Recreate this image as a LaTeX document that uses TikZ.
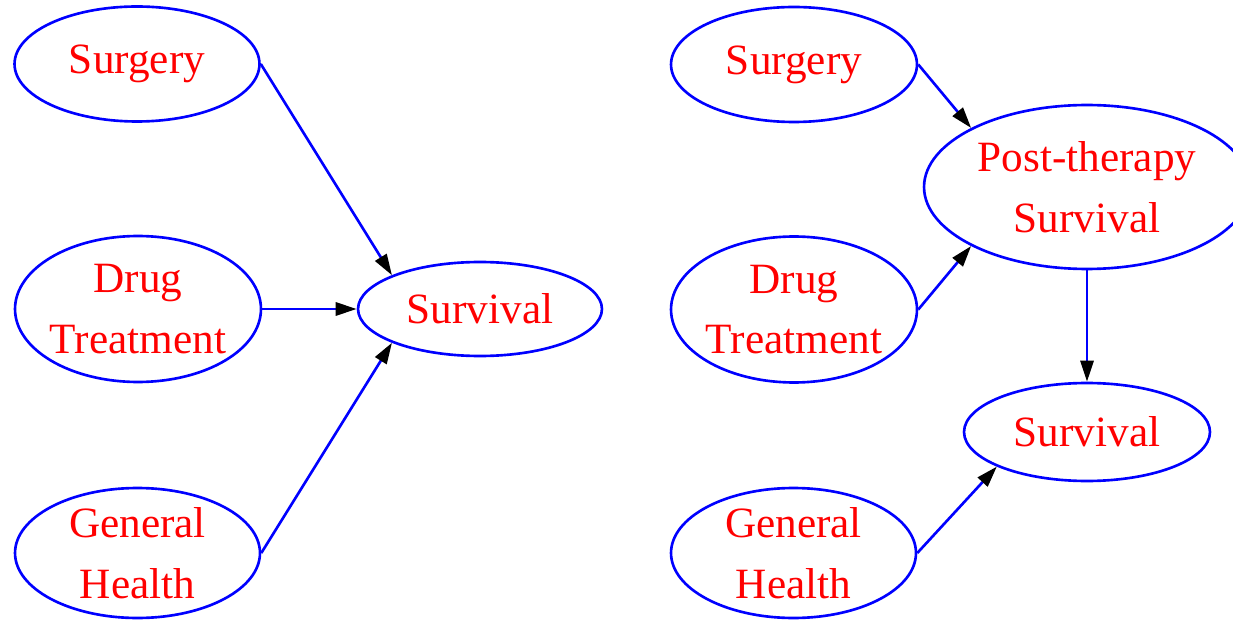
\documentclass[tikz,border=0pt]{standalone}
\usepackage{fontspec}
\setmainfont{Liberation Serif}
\usetikzlibrary{shapes.geometric,arrows.meta}
\begin{document}
\begin{tikzpicture}[x=0.02cm,y=-0.02cm,
  el/.style={ellipse,draw=blue,line width=1.5pt,text=red,inner sep=0pt,inner xsep=-1pt,align=center,font=\fontsize{24.6}{34.5}\selectfont},
  ed/.style={draw=blue,line width=1.5pt,-{Triangle[length=12pt,width=7.5pt,color=black,fill=black]}}]
\useasboundingbox (0,0) rectangle (1233,621);
\clip (0,0) rectangle (1233,621);
% left graph
\node[el,minimum width=4.9cm,minimum height=2.3cm] (s1) at (137,64) {Surgery};
\node[el,minimum width=4.92cm,minimum height=2.92cm] (d1) at (138,309) {Drug\\Treatment};
\node[el,minimum width=4.9cm,minimum height=2.6cm] (g1) at (137.5,553) {General\\Health};
\node[el,minimum width=4.88cm,minimum height=1.88cm] (v1) at (480,309) {Survival};
\draw[ed] (s1.east) -- (v1.159);
\draw[ed] (d1.east) -- (v1.west);
\draw[ed] (g1.east) -- (v1.201);
% right graph
\node[el,minimum width=4.92cm,minimum height=2.3cm] (s2) at (794,64.5) {Surgery};
\node[el,minimum width=4.92cm,minimum height=2.92cm] (d2) at (794,309.5) {Drug\\Treatment};
\node[el,minimum width=4.9cm,minimum height=2.6cm] (g2) at (793.5,553) {General\\Health};
\node[el,minimum width=6.52cm,minimum height=3.28cm] (p2) at (1087,187) {Post-therapy\\Survival};
\node[el,minimum width=4.92cm,minimum height=1.96cm] (v2) at (1087,432) {Survival};
\draw[ed] (s2.east) -- (p2.153);
\draw[ed] (d2.east) -- (p2.207);
\draw[ed] (p2.south) -- (v2.north);
\draw[ed] (g2.east) -- (v2.201);
\end{tikzpicture}
\end{document}
